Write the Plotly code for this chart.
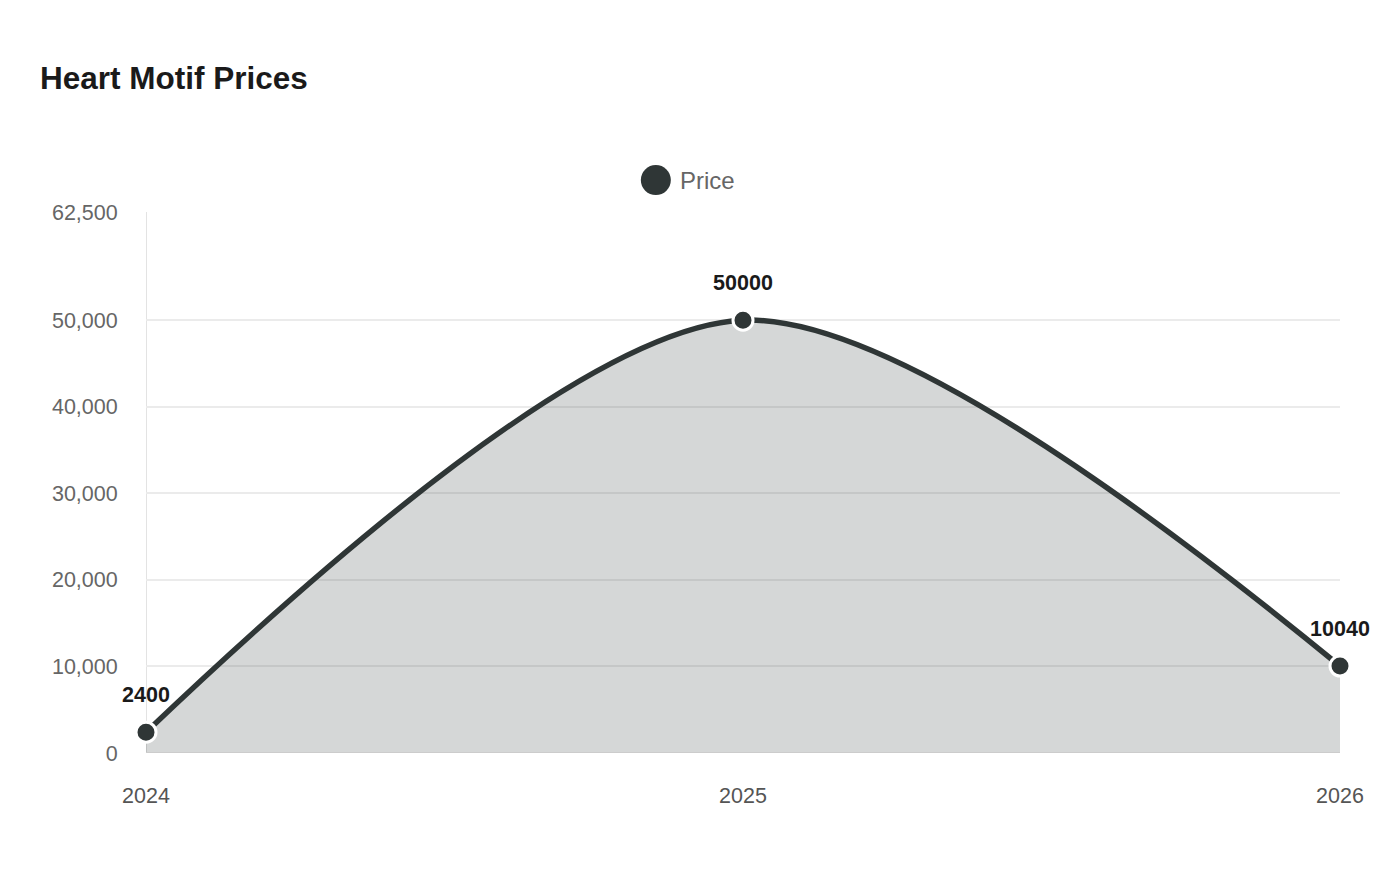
import plotly.graph_objects as go

years = ["2024", "2025", "2026"]
prices = [2400, 50000, 10040]
y_ticks = [0, 10000, 20000, 30000, 40000, 50000, 62500]
y_tick_text = ["0", "10,000", "20,000", "30,000", "40,000", "50,000", "62,500"]

dark = "#2f3636"
font = "Liberation Sans, Arial, sans-serif"

fig = go.Figure()
fig.add_trace(go.Scatter(
    x=years, y=prices,
    mode="lines+markers",
    line=dict(color=dark, width=5.5, shape="spline", smoothing=0.85),
    marker=dict(size=20, color=dark, line=dict(color="white", width=3)),
    fill="tozeroy",
    fillcolor="rgba(47,54,54,0.2)",
    cliponaxis=False,
    showlegend=False,
    hoverinfo="x+y",
))
# value labels, pushed up by a large invisible marker
fig.add_trace(go.Scatter(
    x=years, y=prices,
    mode="markers+text",
    text=[str(v) for v in prices],
    textposition="top center",
    textfont=dict(family=font, size=21.5, color="#1a1a1a", weight="bold"),
    marker=dict(size=38, opacity=0),
    cliponaxis=False,
    showlegend=False,
    hoverinfo="skip",
))

# legend look-alike (plotly caps legend marker size)
fig.add_shape(type="circle", xref="paper", yref="paper",
              xsizemode="pixel", ysizemode="pixel",
              xanchor=0.427, yanchor=1.059,
              x0=-15, x1=15, y0=-15, y1=15,
              fillcolor=dark, line=dict(width=0))
fig.add_annotation(xref="paper", yref="paper", x=0.4455, y=1.059, text="Price",
                   xanchor="left", yanchor="middle", showarrow=False,
                   font=dict(family=font, size=24, color="#666666"))

fig.update_layout(
    width=1400, height=880,
    paper_bgcolor="white", plot_bgcolor="white",
    margin=dict(l=138, r=68, t=204, b=135),
    font=dict(family=font),
    title=dict(text="<b>Heart Motif Prices</b>", x=0.0229, xanchor="left",
               y=0.92, yanchor="middle",
               font=dict(family=font, size=31.5, color="#1a1a1a")),
)
fig.update_xaxes(
    type="category", range=[0, 2],
    showgrid=False, zeroline=False,
    showline=False,
    ticks="outside", ticklen=0, ticklabelstandoff=23,
    tickfont=dict(size=21.5, color="#555555"),
)
fig.update_yaxes(
    range=[0, 62500],
    tickvals=y_ticks, ticktext=y_tick_text,
    showgrid=True, gridcolor="#ebebeb", gridwidth=2,
    zeroline=False, showline=False,
    ticks="outside", ticklen=0, ticklabelstandoff=23,
    tickfont=dict(size=21.5, color="#666666"),
)
# left axis line and baseline
fig.add_vline(x=0, line=dict(color="#e3e3e3", width=2), layer="below")
fig.add_hline(y=0, line=dict(color="#cccccc", width=2))

fig.write_html("out.html")
